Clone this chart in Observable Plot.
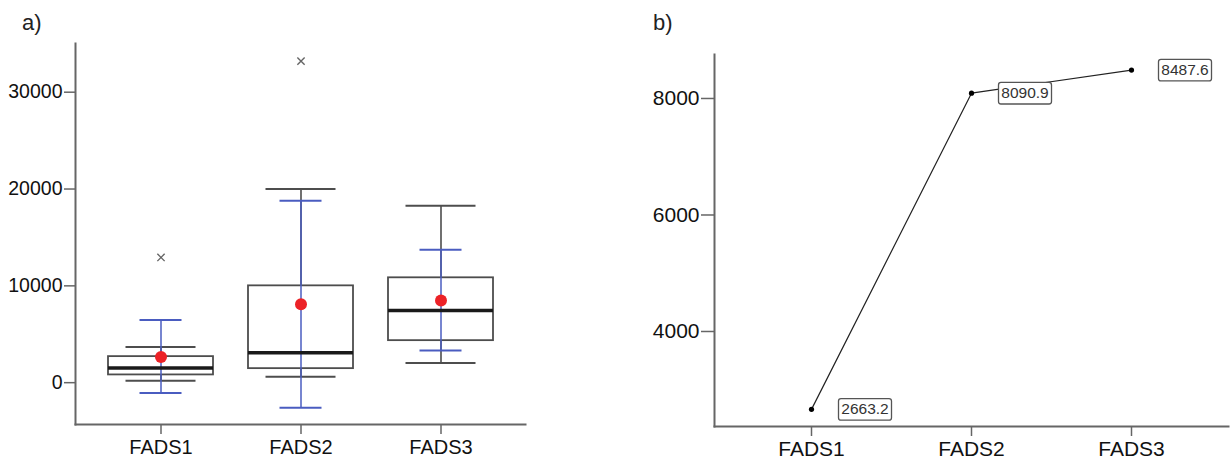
<!DOCTYPE html>
<html><head><meta charset="utf-8">
<script src="https://cdn.jsdelivr.net/npm/d3@7"></script>
<script src="https://cdn.jsdelivr.net/npm/@observablehq/plot@0.6"></script>
<style>
body{margin:0;background:#fff;font-family:"Liberation Sans",Arial,sans-serif;}
#wrap{position:relative;width:1232px;height:464px;overflow:hidden;background:#fff}
.panel{position:absolute;top:0}
.lab{position:absolute;font-size:22px;color:#222;line-height:1}
</style></head><body>
<div id="wrap">
<div id="a" class="panel" style="left:0"></div>
<div id="b" class="panel" style="left:616px"></div>
<div class="lab" style="left:22px;top:12px">a)</div>
<div class="lab" style="left:653px;top:12px">b)</div>
</div>
<script>
// ---- data ----
const genes = ["FADS1", "FADS2", "FADS3"];
const q1 = [800, 1450, 4340];
const median = [1520, 3100, 7450];
const q3 = [2690, 10000, 10830];
const whiskerLow = [210, 620, 2040];
const whiskerHigh = [3690, 20000, 18270];
const means = [2663.2, 8090.9, 8487.6];
const errLow = [-1070, -2590, 3310];
const errHigh = [6480, 18790, 13720];
const outlierGene = ["FADS1", "FADS2"];
const outlierValue = [12930, 33200];
const yTicksA = [0, 10000, 20000, 30000];
const yTicksB = [4000, 6000, 8000];

const boxData = genes.map((g, i) => ({
  gene: g, q1: q1[i], med: median[i], q3: q3[i],
  wlo: whiskerLow[i], whi: whiskerHigh[i],
  mean: means[i], elo: errLow[i], ehi: errHigh[i]
}));
const outliers = outlierGene.map((g, i) => ({gene: g, v: outlierValue[i]}));
const meanData = genes.map((g, i) => ({gene: g, v: means[i]}));

const FONT = "'Liberation Sans', Arial, sans-serif";
const AXIS = "#666";
const BOX = "#4d4d4d";
const BLUE = "#4a5cc0";
const RED = "#ec2227";

// ---- panel a ----
const plotA = Plot.plot({
  width: 560, height: 464,
  marginLeft: 75, marginRight: 35, marginTop: 43, marginBottom: 40,
  style: {fontFamily: FONT, background: "white", overflow: "visible"},
  x: {type: "band", domain: genes, paddingInner: 0.253, paddingOuter: 0.227, label: null},
  y: {domain: [-4320, 35030], label: null},
  marks: [
    Plot.frame({anchor: "left", stroke: AXIS, strokeWidth: 2}),
    Plot.frame({anchor: "bottom", stroke: AXIS, strokeWidth: 2}),
    Plot.axisY(yTicksA, {tickSize: 11, tickPadding: 2, fontSize: 19.5, stroke: AXIS, strokeWidth: 1.5, fill: "#111", tickFormat: "d", label: null}),
    Plot.axisX({tickSize: 10, tickPadding: 5, fontSize: 20, stroke: AXIS, strokeWidth: 1.5, fill: "#111", label: null}),
    // whiskers
    Plot.ruleX(boxData, {x: "gene", y1: "wlo", y2: "q1", stroke: BOX, strokeWidth: 1.6}),
    Plot.ruleX(boxData, {x: "gene", y1: "q3", y2: "whi", stroke: BOX, strokeWidth: 1.6}),
    Plot.tickY(boxData, {x: "gene", y: "wlo", inset: 17.5, stroke: BOX, strokeWidth: 2}),
    Plot.tickY(boxData, {x: "gene", y: "whi", inset: 17.5, stroke: BOX, strokeWidth: 2}),
    // boxes
    Plot.barY(boxData, {x: "gene", y1: "q1", y2: "q3", fill: "white", stroke: BOX, strokeWidth: 1.8}),
    // error bars (blue)
    Plot.ruleX(boxData, {x: "gene", y1: "elo", y2: "ehi", stroke: BLUE, strokeWidth: 1.5}),
    Plot.tickY(boxData, {x: "gene", y: "elo", inset: 31.5, stroke: BLUE, strokeWidth: 2}),
    Plot.tickY(boxData, {x: "gene", y: "ehi", inset: 31.5, stroke: BLUE, strokeWidth: 2}),
    // medians
    Plot.tickY(boxData, {x: "gene", y: "med", stroke: "#1a1a1a", strokeWidth: 3.5}),
    // means
    Plot.dot(boxData, {x: "gene", y: "mean", r: 6, fill: RED, stroke: "none"}),
    // outliers
    Plot.dot(outliers, {x: "gene", y: "v", symbol: "times", r: 3.4, stroke: "#666", strokeWidth: 1.4})
  ]
});
document.getElementById("a").append(plotA);

// ---- panel b ----
const labelBox = {
  draw(ctx) {
    const w = 26.5, h = 10.8, c = 2.5;
    ctx.moveTo(-w + c, -h);
    ctx.lineTo(w - c, -h);
    ctx.quadraticCurveTo(w, -h, w, -h + c);
    ctx.lineTo(w, h - c);
    ctx.quadraticCurveTo(w, h, w - c, h);
    ctx.lineTo(-w + c, h);
    ctx.quadraticCurveTo(-w, h, -w, h - c);
    ctx.lineTo(-w, -h + c);
    ctx.quadraticCurveTo(-w, -h, -w + c, -h);
    ctx.closePath();
  }
};

const plotB = Plot.plot({
  width: 616, height: 464,
  marginLeft: 98, marginRight: 4, marginTop: 54, marginBottom: 38,
  style: {fontFamily: FONT, background: "white", overflow: "visible"},
  x: {type: "point", domain: genes, padding: 0.6, label: null},
  y: {domain: [2369, 8755], label: null},
  marks: [
    Plot.frame({anchor: "left", stroke: AXIS, strokeWidth: 2}),
    Plot.frame({anchor: "bottom", stroke: AXIS, strokeWidth: 2}),
    Plot.axisY(yTicksB, {tickSize: 13, tickPadding: 2, fontSize: 21, stroke: AXIS, strokeWidth: 1.5, fill: "#111", tickFormat: "d", label: null}),
    Plot.axisX({tickSize: 10, tickPadding: 5, fontSize: 21, stroke: AXIS, strokeWidth: 1.5, fill: "#111", label: null}),
    Plot.line(meanData, {x: "gene", y: "v", stroke: "#222", strokeWidth: 1.2}),
    Plot.dot(meanData, {x: "gene", y: "v", r: 2.6, fill: "#000", stroke: "none"}),
    Plot.dot(meanData, {x: "gene", y: "v", symbol: labelBox, r: 10, dx: 53.5, fill: "white", stroke: "#555", strokeWidth: 1.3}),
    Plot.text(meanData, {x: "gene", y: "v", text: d => d.v.toFixed(1), dx: 53.5, fontSize: 15.5, fill: "#333"})
  ]
});
document.getElementById("b").append(plotB);
</script>
</body></html>
